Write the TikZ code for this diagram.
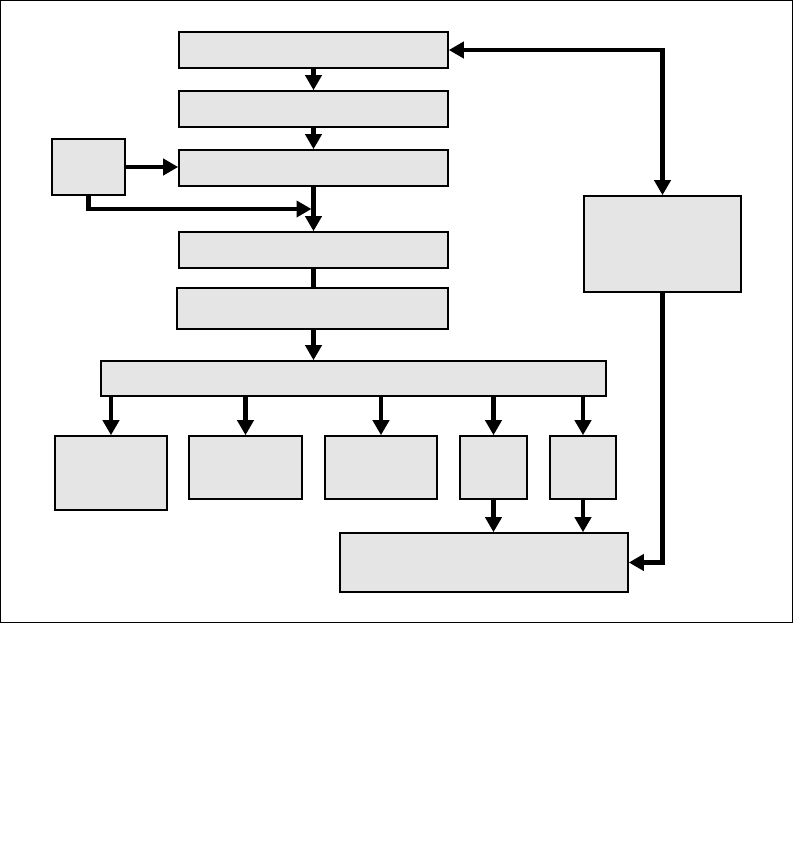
\documentclass[tikz,border=0pt]{standalone}
\usetikzlibrary{arrows.meta,calc,positioning}

\begin{document}
\begin{tikzpicture}[x=1pt, y=-1pt, >={Triangle[length=15pt,width=16pt]},
  blk/.style={draw, line width=1.6pt, fill=gray!20, inner sep=0pt},
  arr/.style={line width=4.6pt, ->}]
\useasboundingbox (0,0) rectangle (793,860);
\draw[line width=1pt] (0.5,0.5) rectangle (792,622);
%main column
\node[blk, minimum width=269pt, minimum height=36pt] (b1) at (313.5,50) {};
\node[blk, minimum width=269pt, minimum height=36pt] (b2) at (313.5,109) {};
\node[blk, minimum width=269pt, minimum height=36pt] (b3) at (313.5,168) {};
\node[blk, minimum width=269pt, minimum height=36pt] (b4) at (313.5,250) {};
\node[blk, minimum width=271pt, minimum height=41pt] (b5) at (312.5,308.5) {};
\node[blk, minimum width=505pt, minimum height=35pt] (w) at (353.5,378.5) {};
\node[blk, minimum width=73pt, minimum height=56pt] (s) at (88.5,167) {};
\node[blk, minimum width=157pt, minimum height=96pt] (r) at (662.5,244) {};
\node[blk, minimum width=288pt, minimum height=59pt] (f) at (484,562.5) {};
%bottom row
\node[blk, minimum width=112pt, minimum height=74pt] (c1) at (111,473) {};
\foreach \n/\x/\w in {2/245.5/113, 3/381/112, 4/493.5/67, 5/583/66}
  \node[blk, minimum width=\w pt, minimum height=63pt] (c\n) at (\x,467.5) {};
\foreach \n in {1,...,5}
  \draw[arr] (c\n.north |- w.south) -- (c\n.north);
%connectors
\draw[arr] (b1) -- (b2);
\draw[arr] (b2) -- (b3);
\draw[arr] (b3) -- (b4);
\draw[line width=4.6pt] (b4) -- (b5.north -| b4);
\draw[arr] (b4 |- b5.south) -- (b4 |- w.north);
\draw[arr] (s.east) -- (b3.west |- s.east);
\coordinate (j) at ($(b3.south)!0.5!(b4.north)$);
\draw[arr, shorten >=2pt] (s.south) |- (j);
\coordinate (k) at (r.north |- b1.east);
\draw[arr, <->] (b1.east) -- (k) -- (r.north);
\draw[arr] (r.south) |- (f.east);
\draw[arr] (c4.south) -- (c4.south |- f.north);
\draw[arr] (c5.south) -- (c5.south |- f.north);
\end{tikzpicture}
\end{document}
